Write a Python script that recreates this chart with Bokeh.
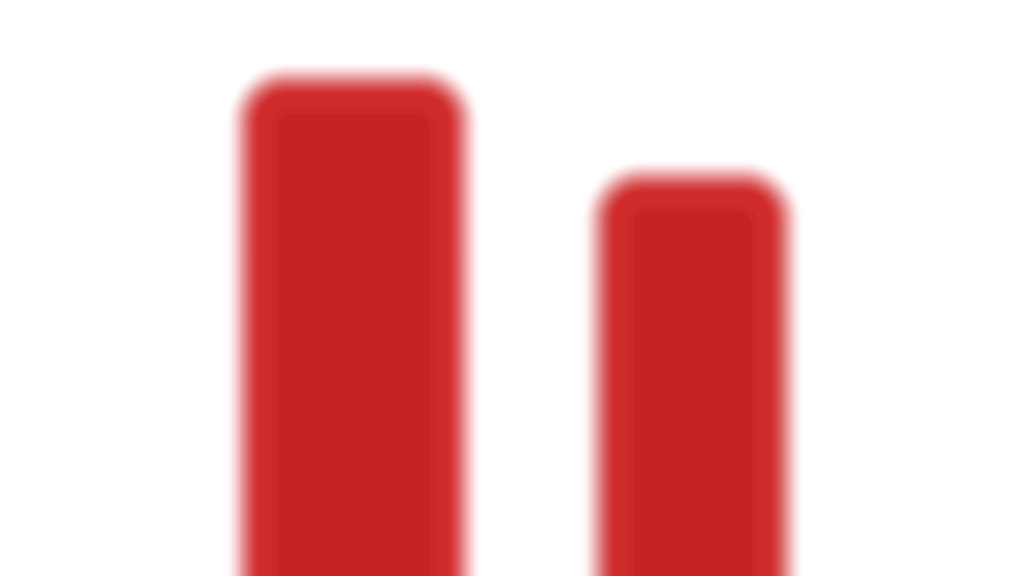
from bokeh.plotting import figure
from bokeh.models import ColumnDataSource, Range1d
from bokeh.embed import file_html
from bokeh.resources import INLINE

# data
categories = [1, 2]
values = [86.6, 69.6]

# styles (bar widths in x units, base below visible area)
bar_widths = [0.658, 0.560]
BASE = -20
W, H = 1024, 576
PX_X = 1 / 339.0   # x units per pixel
PX_Y = 100 / H     # y units per pixel
X0 = -0.0413

p = figure(width=W, height=H, output_backend="svg", toolbar_location=None,
           x_range=Range1d(X0, X0 + W * PX_X), y_range=Range1d(0, 100),
           min_border=0)
p.axis.visible = False
p.grid.visible = False
p.outline_line_color = None
p.background_fill_color = "white"
p.border_fill_color = "white"


def layer(d, color, alpha, radius):
    src = ColumnDataSource(dict(
        x=categories,
        top=[v + d * PX_Y for v in values],
        w=[w + 2 * d * PX_X for w in bar_widths],
        bottom=[BASE] * len(values)))
    r = int(max(radius, 6))
    p.vbar(x="x", width="w", top="top", bottom="bottom", source=src,
           fill_color=color, fill_alpha=alpha, line_color=None,
           border_radius=(r, r, 0, 0))


# stacked translucent layers imitate the soft, blurred edges (smoothstep ramp)
SPREAD = 18
prev = 0.0
for d in range(SPREAD, -SPREAD - 1, -2):
    t = (SPREAD - d) / (2 * SPREAD)
    o = t * t * (3 - 2 * t)
    if o <= prev:
        continue
    a = (o - prev) / (1 - prev) if prev < 1 else 1.0
    layer(d, "#D02B2B", min(a, 1.0), 45 + d)
    prev = o

# slightly darker interior
layer(-30, "#C82727", 0.6, 18)
layer(-36, "#C42424", 1.0, 14)

open("out.html", "w").write(file_html(p, INLINE))
